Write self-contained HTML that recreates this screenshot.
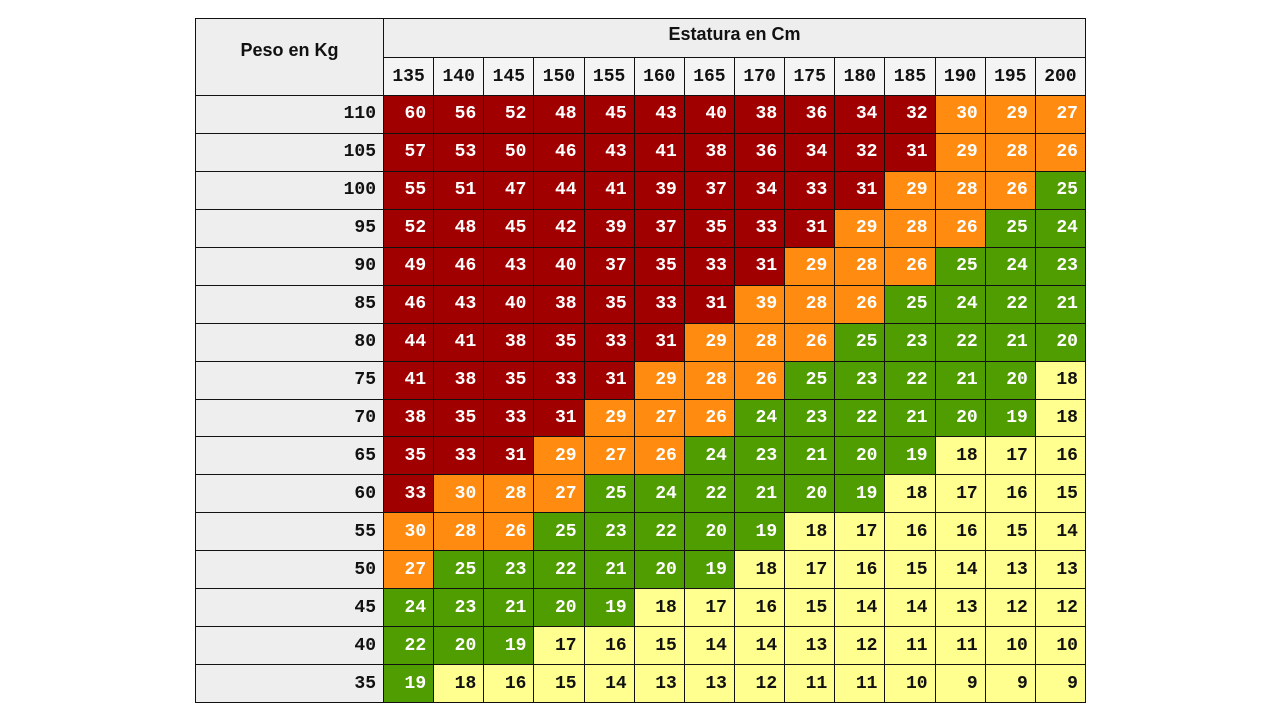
<!DOCTYPE html>
<html><head><meta charset="utf-8"><style>
body{margin:0;width:1280px;height:720px;background:#fff;position:relative;overflow:hidden;font-family:"Liberation Mono",monospace;font-weight:bold}
.c{position:absolute;box-sizing:border-box;border:1px solid #111;display:flex;align-items:center;justify-content:flex-end;padding-right:7px;font-size:18px}
.h{font-family:"Liberation Sans",sans-serif;justify-content:center;padding:0;font-size:18px;background:#eee}
</style></head><body>
<div id="chart"></div>
<script>
const heights=[135,140,145,150,155,160,165,170,175,180,185,190,195,200];
const weights=[110,105,100,95,90,85,80,75,70,65,60,55,50,45,40,35];
const r110=[60,56,52,48,45,43,40,38,36,34,32,30,29,27];
const r105=[57,53,50,46,43,41,38,36,34,32,31,29,28,26];
const r100=[55,51,47,44,41,39,37,34,33,31,29,28,26,25];
const r95=[52,48,45,42,39,37,35,33,31,29,28,26,25,24];
const r90=[49,46,43,40,37,35,33,31,29,28,26,25,24,23];
const r85=[46,43,40,38,35,33,31,39,28,26,25,24,22,21];
const r80=[44,41,38,35,33,31,29,28,26,25,23,22,21,20];
const r75=[41,38,35,33,31,29,28,26,25,23,22,21,20,18];
const r70=[38,35,33,31,29,27,26,24,23,22,21,20,19,18];
const r65=[35,33,31,29,27,26,24,23,21,20,19,18,17,16];
const r60=[33,30,28,27,25,24,22,21,20,19,18,17,16,15];
const r55=[30,28,26,25,23,22,20,19,18,17,16,16,15,14];
const r50=[27,25,23,22,21,20,19,18,17,16,15,14,13,13];
const r45=[24,23,21,20,19,18,17,16,15,14,14,13,12,12];
const r40=[22,20,19,17,16,15,14,14,13,12,11,11,10,10];
const r35=[19,18,16,15,14,13,13,12,11,11,10,9,9,9];
const values=[r110,r105,r100,r95,r90,r85,r80,r75,r70,r65,r60,r55,r50,r45,r40,r35];
const overrides=[[5,7,'orange']];
const X0=195,X1=383,X2=1085,Y0=18,Y1=57,Y2=95,Y3=702;
const cw=(X2-X1)/heights.length, rh=(Y3-Y2)/weights.length;
const chart=document.getElementById('chart');
function cell(x,y,w,h,txt,bg,col,cls){const d=document.createElement('div');d.className='c '+(cls||'');d.style.left=x+'px';d.style.top=y+'px';d.style.width=(w+1)+'px';d.style.height=(h+1)+'px';d.style.background=bg;d.style.color=col;d.textContent=txt;chart.appendChild(d);return d;}
function cat(v){return v>30?'red':v>=26?'orange':v>=19?'green':'yellow';}
const pal={red:['#a00000','#fff'],orange:['#ff8c10','#fff'],green:['#4f9d00','#fff'],yellow:['#ffff90','#111']};
let d=cell(X0,Y0,X1-X0,Y2-Y0,'Peso en Kg','#eee','#111','h');


d.style.alignItems='flex-start';d.style.paddingTop='21px';
d=cell(X1,Y0,X2-X1,Y1-Y0,'Estatura en Cm','#eee','#111','h');


d.style.alignItems='flex-start';d.style.paddingTop='5px';
heights.forEach((h,i)=>{const e=cell(X1+i*cw,Y1,cw,Y2-Y1,h,'#f4f4f4','#111');e.style.justifyContent='center';e.style.paddingRight='0';

});
weights.forEach((w,r)=>{const e=cell(X0,Y2+r*rh,X1-X0,rh,w,'#eee','#111');


values[r].forEach((v,c)=>{let k=cat(v);overrides.forEach(o=>{if(o[0]===r&&o[1]===c)k=o[2];});
const q=cell(X1+c*cw,Y2+r*rh,cw,rh,v,pal[k][0],pal[k][1]);

});});
</script>
</body></html>
